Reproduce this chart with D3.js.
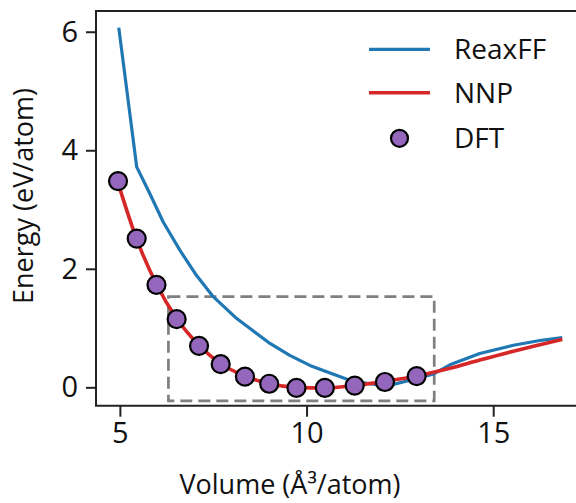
<!DOCTYPE html>
<html>
<head>
<meta charset="utf-8">
<script src="https://cdn.jsdelivr.net/npm/d3@7"></script>
<style>
  html, body { margin: 0; padding: 0; background: #fff; }
  svg { display: block; }
  text { font-family: "Open Sans", "Noto Sans", sans-serif; fill: #111; }
</style>
</head>
<body>
<svg id="chart" width="576" height="503"></svg>
<script>
// ---- data ----
const dftVolume = [4.95, 5.45, 5.98, 6.52, 7.12, 7.70, 8.35, 9.00, 9.73, 10.49, 11.29, 12.10, 12.95];
const dftEnergy = [3.48, 2.51, 1.73, 1.15, 0.70, 0.39, 0.18, 0.06, -0.01, -0.01, 0.03, 0.09, 0.19];

const nnpVolume = [4.95, 5.45, 5.98, 6.52, 7.12, 7.70, 8.35, 9.00, 9.73, 10.49, 11.29, 12.10, 12.95, 13.84, 14.64, 15.54, 16.25, 16.85];
const nnpEnergy = [3.45, 2.50, 1.74, 1.16, 0.71, 0.40, 0.19, 0.06, 0.00, -0.01, 0.03, 0.10, 0.19, 0.32, 0.46, 0.61, 0.72, 0.81];

const reaxVolume = [4.97, 5.45, 5.80, 6.16, 6.61, 7.05, 7.50, 8.13, 9.02, 9.55, 10.09, 10.63, 11.16, 11.70, 12.14, 12.77, 13.38, 13.84, 14.64, 15.54, 16.25, 16.85];
const reaxEnergy = [6.07, 3.72, 3.27, 2.79, 2.31, 1.89, 1.53, 1.16, 0.74, 0.54, 0.37, 0.24, 0.12, 0.06, 0.02, 0.12, 0.22, 0.38, 0.57, 0.71, 0.79, 0.84];

const xTicks = [5, 10, 15];
const yTicks = [0, 2, 4, 6];
const boxX = [6.30, 13.42];
const boxY = [-0.23, 1.53];
const legendLabels = ["ReaxFF", "NNP", "DFT"];

// ---- layout ----
const svg = d3.select("#chart");
const mLeft = 96, mTop = 11, mBottom = 405.7, mRight = 594;
const x = d3.scaleLinear().domain([4.36, 17.7]).range([mLeft, mRight]);
const y = d3.scaleLinear().domain([-0.31, 6.35]).range([mBottom, mTop]);
const FS = 28;

svg.append("defs").append("clipPath").attr("id", "clip")
  .append("rect").attr("x", mLeft).attr("y", mTop).attr("width", mRight - mLeft).attr("height", mBottom - mTop);

const plot = svg.append("g").attr("clip-path", "url(#clip)");

// dashed box
plot.append("rect")
  .attr("x", x(boxX[0])).attr("y", y(boxY[1]))
  .attr("width", x(boxX[1]) - x(boxX[0])).attr("height", y(boxY[0]) - y(boxY[1]))
  .attr("fill", "none").attr("stroke", "#7f7f7f").attr("stroke-width", 2.7)
  .attr("stroke-dasharray", "12,6");

const line = d3.line().x(d => x(d[0])).y(d => y(d[1]));

plot.append("path")
  .datum(reaxVolume.map((v, i) => [v, reaxEnergy[i]]))
  .attr("d", line).attr("fill", "none").attr("stroke", "#1f77b4").attr("stroke-width", 3.2)
  .attr("stroke-linejoin", "round");

plot.append("path")
  .datum(nnpVolume.map((v, i) => [v, nnpEnergy[i]]))
  .attr("d", line.curve(d3.curveMonotoneX)).attr("fill", "none").attr("stroke", "#d62728").attr("stroke-width", 3.6)
  .attr("stroke-linejoin", "round");

plot.selectAll("circle.dft")
  .data(dftVolume.map((v, i) => [v, dftEnergy[i]]))
  .join("circle").attr("class", "dft")
  .attr("cx", d => x(d[0])).attr("cy", d => y(d[1])).attr("r", 9)
  .attr("fill", "#9467bd").attr("stroke", "#000").attr("stroke-width", 2.2);

// spines
svg.append("path")
  .attr("d", `M${mRight},${mTop}H${mLeft}V${mBottom}H${mRight}`)
  .attr("fill", "none").attr("stroke", "#222").attr("stroke-width", 2);

// axes
const xAxis = svg.append("g").attr("transform", `translate(0,${mBottom})`)
  .call(d3.axisBottom(x).tickValues(xTicks).tickSize(11).tickPadding(6).tickFormat(d3.format("d")));
const yAxis = svg.append("g").attr("transform", `translate(${mLeft},0)`)
  .call(d3.axisLeft(y).tickValues(yTicks).tickSize(10).tickPadding(8).tickFormat(d3.format("d")));
[xAxis, yAxis].forEach(a => {
  a.select(".domain").remove();
  a.selectAll(".tick line").attr("stroke", "#222").attr("stroke-width", 2);
  a.selectAll(".tick text").attr("font-family", "Open Sans").attr("font-size", FS + 1).attr("fill", "#111");
});

// axis labels
svg.append("text").attr("x", 290).attr("y", 494).attr("text-anchor", "middle")
  .attr("font-size", 27).text("Volume (Å³/atom)");
svg.append("text").attr("transform", "translate(33,196) rotate(-90)").attr("text-anchor", "middle")
  .attr("font-size", 27).text("Energy (eV/atom)");

// legend
const lg = svg.append("g");
const rows = [49.3, 92.7, 138.3];
lg.append("line").attr("x1", 369).attr("x2", 430).attr("y1", rows[0]).attr("y2", rows[0])
  .attr("stroke", "#1f77b4").attr("stroke-width", 3.2);
lg.append("line").attr("x1", 369).attr("x2", 430).attr("y1", rows[1]).attr("y2", rows[1])
  .attr("stroke", "#d62728").attr("stroke-width", 3.6);
lg.append("circle").attr("cx", 399.5).attr("cy", rows[2]).attr("r", 8.5)
  .attr("fill", "#9467bd").attr("stroke", "#000").attr("stroke-width", 2.2);
legendLabels.forEach((t, i) => {
  lg.append("text").attr("x", 454).attr("y", rows[i] + 10).attr("font-size", FS).text(t);
});
</script>
</body>
</html>
